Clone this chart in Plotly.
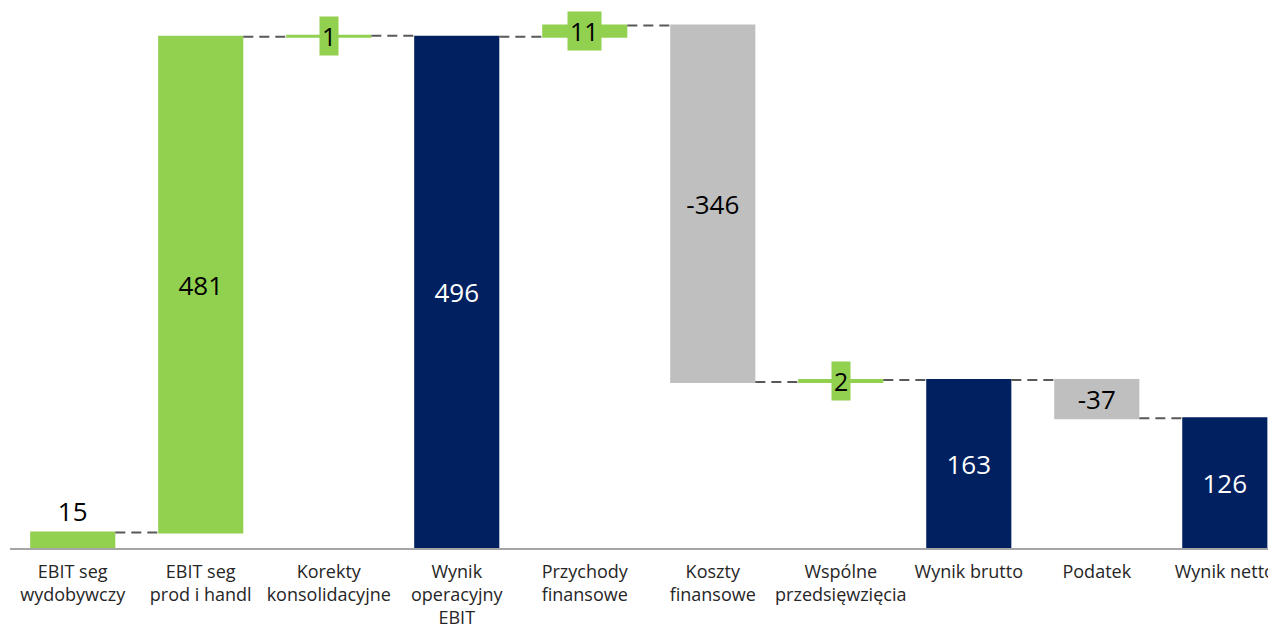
import plotly.graph_objects as go

categories = ["EBIT seg<br>wydobywczy", "EBIT seg<br>prod i handl", "Korekty<br>konsolidacyjne",
              "Wynik<br>operacyjny<br>EBIT", "Przychody<br>finansowe", "Koszty<br>finansowe",
              "Wspólne<br>przedsięwzięcia", "Wynik brutto", "Podatek", "Wynik netto"]
values = [15, 481, 1, 496, 11, -346, 2, 163, -37, 126]
measures = ["relative", "relative", "relative", "absolute", "relative", "relative",
            "relative", "absolute", "relative", "absolute"]
labels = ["15", "481", "1", "496", "11", "-346", "2", "163", "-37", "126"]

GREEN = "#92D050"
NAVY = "#002060"
GREY = "#BFBFBF"

small = [2, 4, 6]  # indices whose labels sit in a green box
text = ["" if i in small else labels[i] for i in range(len(values))]
textpos = ["outside" if i == 0 else "inside" for i in range(len(values))]
textcolor = ["white" if m == "absolute" else "black" for m in measures]

fig = go.Figure(go.Waterfall(
    x=categories, y=values, measure=measures,
    text=text, textposition=textpos, insidetextanchor="middle",
    textfont=dict(size=26, color=textcolor, family="Open Sans"),
    constraintext="none",
    increasing=dict(marker=dict(color=GREEN)),
    decreasing=dict(marker=dict(color=GREY)),
    totals=dict(marker=dict(color=NAVY)),
    connector=dict(mode="between", line=dict(color="#595959", width=2, dash="10px,6px")),
    width=0.665, cliponaxis=False,
))

# running totals for label placement
running = 0
starts = []
for v, m in zip(values, measures):
    if m == "absolute":
        starts.append(0)
        running = v
    else:
        starts.append(running)
        running += v

for i in small:
    fig.add_annotation(x=i, y=starts[i] + values[i] / 2, text=labels[i], showarrow=False,
                       bgcolor=GREEN, borderpad=2, font=dict(size=25, color="black", family="Open Sans"),
                       xref="x", yref="y")

fig.update_layout(
    width=1268, height=624,
    margin=dict(l=2, r=0, t=0, b=84, autoexpand=False),
    paper_bgcolor="white", plot_bgcolor="white",
    showlegend=False,
    font=dict(family="Open Sans", size=18, color="#262626"),
    xaxis=dict(range=[-0.49, 9.40], showline=True, linecolor="#A6A6A6", linewidth=2,
               showgrid=False, zeroline=False, ticks="outside", ticklen=6, automargin=False,
               tickangle=0, tickcolor="rgba(0,0,0,0)", tickfont=dict(size=18, color="#262626")),
    yaxis=dict(range=[0, 524], visible=False, showgrid=False, zeroline=False, automargin=False),
)

fig.write_html("out.html")
